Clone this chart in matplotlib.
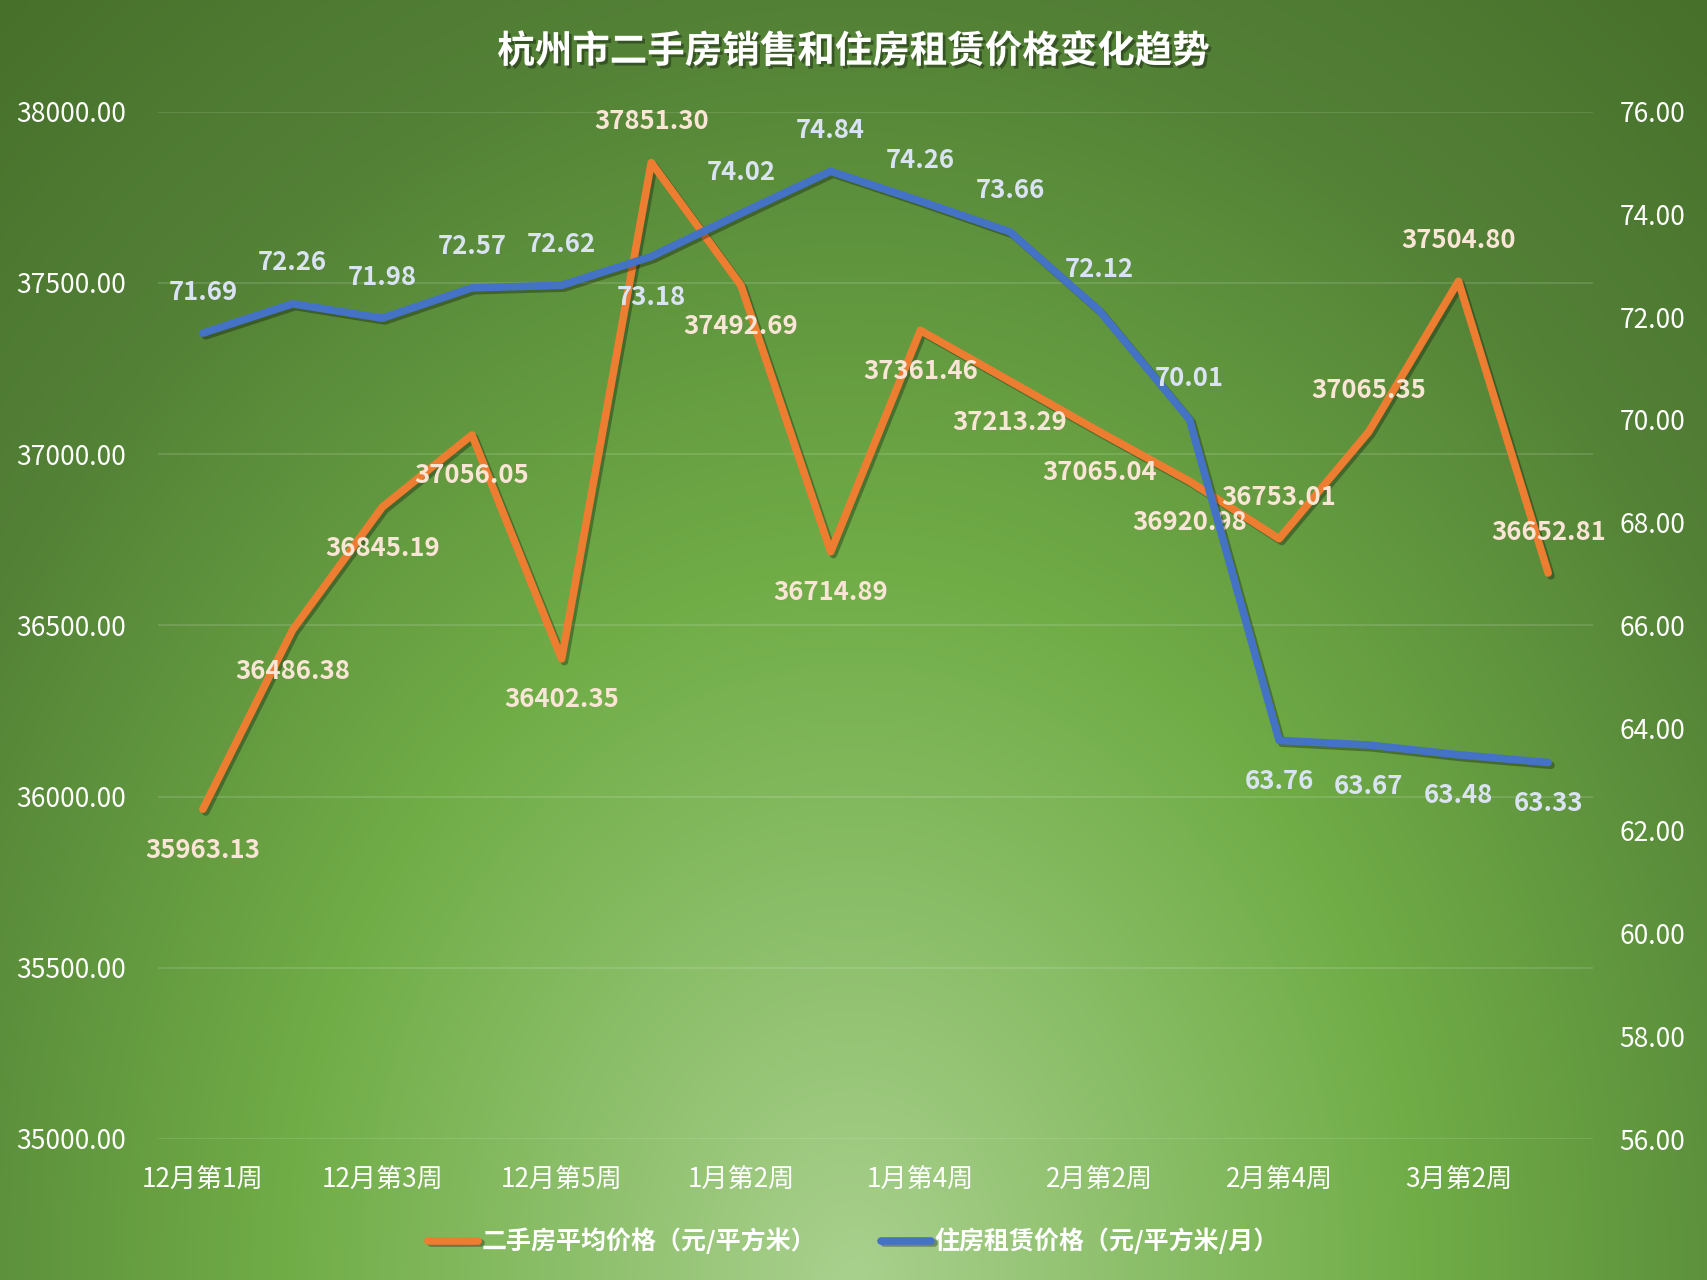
"""杭州市二手房销售和住房租赁价格变化趋势 - recreate chart.

"""
import numpy as np
import matplotlib
matplotlib.use("Agg")
import matplotlib.pyplot as plt
import matplotlib.patheffects as pe
from matplotlib.colors import LinearSegmentedColormap
from matplotlib.ticker import StrMethodFormatter

plt.rcParams['font.family'] = ['Noto Sans CJK SC', 'DejaVu Sans']

weeks = ['12月第1周', '12月第2周', '12月第3周', '12月第4周', '12月第5周',
         '1月第1周', '1月第2周', '1月第3周', '1月第4周', '2月第1周',
         '2月第2周', '2月第3周', '2月第4周', '3月第1周', '3月第2周',
         '3月第3周']
sale_price = [35963.13, 36486.38, 36845.19, 37056.05, 36402.35, 37851.30,
              37492.69, 36714.89, 37361.46, 37213.29, 37065.04, 36920.98,
              36753.01, 37065.35, 37504.80, 36652.81]
rent_price = [71.69, 72.26, 71.98, 72.57, 72.62, 73.18, 74.02, 74.84,
              74.26, 73.66, 72.12, 70.01, 63.76, 63.67, 63.48, 63.33]
# label above the point (1) or below (-1)
sale_label_side = [-1, -1, -1, -1, -1, 1, -1, -1, -1, -1, -1, -1, 1, 1, 1, 1]
rent_label_side = [1, 1, 1, 1, 1, -1, 1, 1, 1, 1, 1, 1, -1, -1, -1, -1]

W, H = 1707, 1280
fig = plt.figure(figsize=(W / 100, H / 100), dpi=100)

# background: elliptical gradient, light at bottom centre
bg = fig.add_axes([0, 0, 1, 1])
yy, xx = np.mgrid[0:H, 0:W]
d = np.sqrt(((xx - 853) / 1120.0) ** 2 + ((yy - 1280) / 1400.0) ** 2)
d = np.clip(d / 1.2, 0, 1)
cmap = LinearSegmentedColormap.from_list(
    'bg', [(0.0, '#A9D18E'), (0.42, '#70AD47'), (0.76, '#538136'),
           (1.0, '#47702B')])
bg.imshow(d, cmap=cmap, vmin=0, vmax=1, aspect='auto',
          interpolation='bilinear')
bg.set_axis_off()

ax = fig.add_axes([158 / W, 141 / H, 1435 / W, 1027.3 / H])
ax.patch.set_alpha(0)
ax2 = ax.twinx()

x = np.arange(len(weeks))
shadow = [pe.SimpleLineShadow(offset=(2, -2), shadow_color='k', alpha=0.3),
          pe.Normal()]
l1, = ax.plot(x, sale_price, color='#ED7D31', lw=5.5,
              solid_joinstyle='round', solid_capstyle='round',
              path_effects=shadow, label='二手房平均价格（元/平方米）')
l2, = ax2.plot(x, rent_price, color='#4472C4', lw=5.5,
               solid_joinstyle='round', solid_capstyle='round',
               path_effects=shadow, label='住房租赁价格（元/平方米/月）')

ax.set_xlim(-0.5, len(weeks) - 0.5)
ax.set_ylim(35000, 38000)
ax2.set_ylim(56, 76)
ax.set_yticks(np.arange(35000, 38001, 500))
ax2.set_yticks(np.arange(56, 77, 2))
ax.yaxis.set_major_formatter(StrMethodFormatter('{x:.2f}'))
ax2.yaxis.set_major_formatter(StrMethodFormatter('{x:.2f}'))
ax.set_xticks(x[::2])
ax.set_xticklabels(weeks[::2])

ax.grid(axis='y', color='white', alpha=0.15, lw=1.2)
ax.set_axisbelow(True)
for a in (ax, ax2):
    for s in a.spines.values():
        s.set_visible(False)
ax.tick_params(axis='y', length=0, pad=23, labelsize=19, labelcolor='white')
ax2.tick_params(axis='y', length=0, pad=19, labelsize=19, labelcolor='white')
ax.tick_params(axis='x', length=0, pad=20, labelsize=18.8, labelcolor='white')

for i, v in enumerate(sale_price):
    t = ax.annotate(f'{v:.2f}', (x[i], v), xytext=(0, 41 * sale_label_side[i]),
                    textcoords='offset pixels', ha='center', va='center',
                    fontsize=18.5, fontweight='bold', color='#FBE5D6')
    t.set_zorder(10)
for i, v in enumerate(rent_price):
    t = ax2.annotate(f'{v:.2f}', (x[i], v), xytext=(0, 41 * rent_label_side[i]),
                     textcoords='offset pixels', ha='center', va='center',
                     fontsize=18.5, fontweight='bold', color='#DAE3F3')
    t.set_zorder(10)

fig.text(0.5, 1 - 51 / H, '杭州市二手房销售和住房租赁价格变化趋势',
         ha='center', va='center', fontsize=27, fontweight='bold',
         color='white',
         path_effects=[pe.withSimplePatchShadow(offset=(2, -2),
                                                shadow_rgbFace='k',
                                                alpha=0.35)])

leg = fig.legend(handles=[l1, l2], loc='center', ncol=2,
                 bbox_to_anchor=(0.5, 1 - 1241 / H), frameon=False,
                 handlelength=2.0, handletextpad=0.15, columnspacing=2.6,
                 prop={'size': 18, 'weight': 'bold'})
for txt in leg.get_texts():
    txt.set_color('white')

fig.savefig('out.png', dpi=100)
